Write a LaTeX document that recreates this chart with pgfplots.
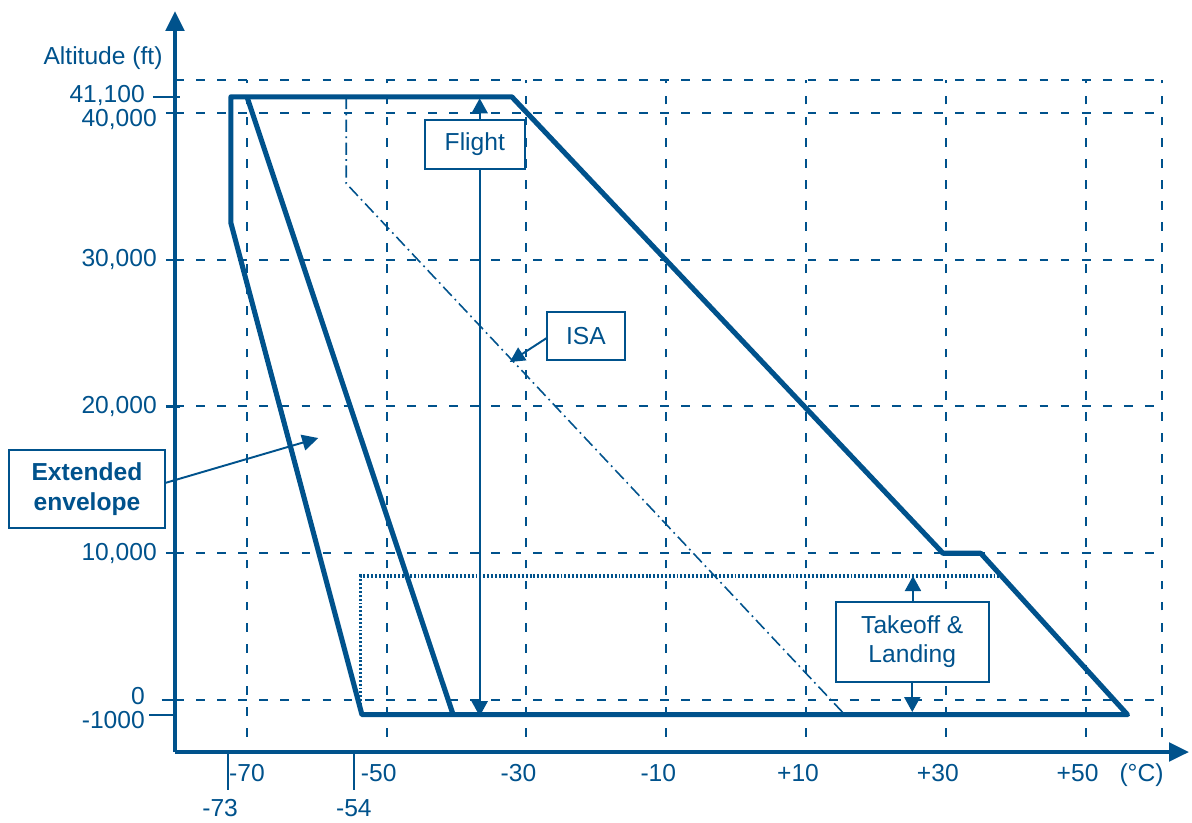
\documentclass[border=0pt]{standalone}
\usepackage{pgfplots}
\pgfplotsset{compat=1.18}
\usetikzlibrary{arrows.meta}
\usepackage{fontspec}
\setmainfont{Liberation Sans}
\definecolor{cb}{RGB}{0,82,140}

\begin{document}
\begin{tikzpicture}[font=\fontsize{14}{16.5}\selectfont]
\begin{axis}[
  at={(0,0)}, anchor=south west,
  scale only axis, width=20.28cm, height=14.82cm,
  xmin=-80.3, xmax=64.8, ymin=-3543, ymax=46950,
  clip=false,
  axis lines=left,
  axis line style={cb, line width=2.2pt, -{Triangle[length=0.4cm,width=0.37cm]}},
  major tick length=0pt,
  scaled ticks=false,
  tick label style={font=\fontsize{14}{16.5}\selectfont, text=cb},
  xtick={-70,-50,-30,-10,10,30,50},
  xticklabels={{\hspace{0.32cm}-70},{-50},{-30},{-10},{+10},{+30},{+50}},
  xticklabel style={xshift=-0.16cm, yshift=-0.12cm},
  extra x ticks={-72.7,-54.7},
  extra x tick labels={{-73},{\hspace{0.32cm}-54}},
  extra x tick style={tick label style={yshift=-0.7cm}},
  ytick={10000,20000,30000,40000},
  yticklabels={{10,000},{20,000},{30,000},{\raisebox{-0.13cm}[\height][\depth]{40,000}}},
  yticklabel style={xshift=-0.24cm},
  extra y ticks={-1000,0,41100},
  extra y tick labels={{\raisebox{-0.1cm}[\height][\depth]{-1000}\hspace{0.14cm}},{\raisebox{0.08cm}[\height][\depth]{0}},{\raisebox{0.03cm}[\height][\depth]{41,100}}},
  extra y tick style={tick label style={xshift=-0.24cm}},
]
% grid
\pgfplotsinvokeforeach{-70,-50,-30.02,-10,10,30,50,60.9}{
  \draw[cb, line width=1.2pt, dash pattern=on 5pt off 7pt] (axis cs:#1,-2520) -- (axis cs:#1,42250);
}
\pgfplotsinvokeforeach{0,10000,20030,30000,40000,42250}{
  \draw[cb, line width=1.2pt, dash pattern=on 5pt off 7pt] (axis cs:-80.3,#1) -- (axis cs:60.9,#1);
}
% tick marks
\draw[cb, line width=1.2pt] (axis cs:-83.45,41100) -- (axis cs:-79.6,41100);
\pgfplotsinvokeforeach{10000,20000,30000,40000}{
  \draw[cb, line width=1.2pt] (axis cs:-81.6,#1) -- (axis cs:-79.6,#1);
}
\draw[cb, line width=1.2pt] (axis cs:-82.2,0) -- (axis cs:-79.6,0);
\draw[cb, line width=1.2pt] (axis cs:-84,-1000) -- (axis cs:-80.3,-1000);
\draw[cb, line width=1.2pt] (axis cs:-72.7,-3543) -- (axis cs:-72.7,-6133);
\draw[cb, line width=1.2pt] (axis cs:-54.7,-3543) -- (axis cs:-54.7,-6133);

% takeoff & landing (dotted)
\addplot[cb, line width=1.8pt, dash pattern=on 1.1pt off 1.1pt] coordinates {(-53.7,-600) (-53.7,8450) (37.7,8450)};
% ISA
\addplot[cb, line width=0.9pt, dash pattern=on 7pt off 2.5pt on 1pt off 2.5pt] coordinates {(-55.8,41100) (-55.8,35200) (15.55,-1000)};
% flight envelope (outer)
\addplot[cb, line width=2.9pt, line join=round] coordinates {(-72.3,41100) (-72.3,32500) (-53.55,-1000) (56,-1000) (35,10000) (29.6,10000) (-32.1,41100)} --cycle;
% inner line
\addplot[cb, line width=2.9pt] coordinates {(-70,41100) (-40.5,-1000)};

% Flight arrow and box
\draw[cb, line width=1.1pt, {Triangle[length=0.3cm,width=0.32cm]}-{Triangle[length=0.3cm,width=0.32cm]}] (axis cs:-36.7,-1100) -- (axis cs:-36.7,41000);
\node[draw=cb, line width=1.1pt, fill=white, text=cb, minimum width=2cm, minimum height=0.98cm, inner sep=0pt] at (axis cs:-37.4,37850) {Flight};

% ISA box
\draw[cb, line width=1.1pt, -{Triangle[length=0.3cm,width=0.3cm]}] (axis cs:-27.1,24670) -- (axis cs:-32.4,23030);
\node[draw=cb, line width=1.1pt, fill=white, text=cb, minimum width=1.56cm, minimum height=0.96cm, inner sep=0pt] at (axis cs:-21.5,24800) {ISA};

% Takeoff & Landing box
\draw[cb, line width=1.1pt, -{Triangle[length=0.3cm,width=0.32cm]}] (axis cs:25.3,6680) -- (axis cs:25.3,8450);
\draw[cb, line width=1.1pt, -{Triangle[length=0.3cm,width=0.32cm]}] (axis cs:25.2,1230) -- (axis cs:25.2,-820);
\node[draw=cb, line width=1.1pt, fill=white, text=cb, align=center, minimum width=3.06cm, minimum height=1.6cm, inner sep=0pt] at (axis cs:25.2,3950) {Takeoff \&\\Landing};

% Extended envelope box
\draw[cb, line width=1.1pt, -{Triangle[length=0.32cm,width=0.32cm]}] (axis cs:-81.7,14790) -- (axis cs:-59.8,17850);
\node[draw=cb, line width=1.1pt, fill=white, text=cb, align=center, font=\fontsize{14}{17}\selectfont\bfseries, minimum width=3.12cm, minimum height=1.56cm, inner sep=0pt] at (axis cs:-92.9,14380) {Extended\\envelope};

% axis titles
\node[text=cb] at (axis cs:-90.6,43750) {Altitude (ft)};
\node[text=cb] at (axis cs:58.0,-5110) {(°C)};
\end{axis}
\pgfresetboundingbox
\path (-3.5,-1.4) rectangle (20.34,15.04);
\end{tikzpicture}
\end{document}
